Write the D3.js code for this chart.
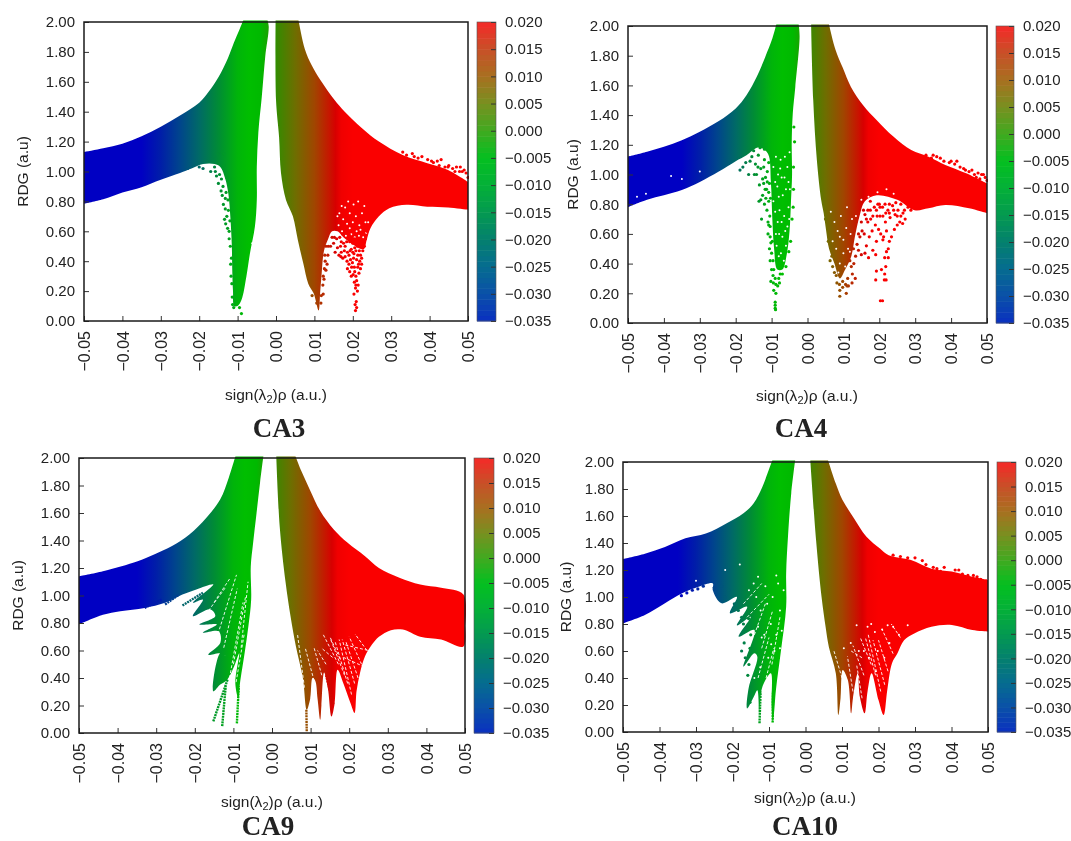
<!DOCTYPE html>
<html><head><meta charset="utf-8">
<script src="https://cdn.jsdelivr.net/npm/d3@7"></script>
<style>html,body{margin:0;padding:0;background:#fff;overflow:hidden}svg{display:block;filter:blur(.45px)}text{font-family:"Liberation Sans",Arial,sans-serif;fill:#222}</style>
</head><body><svg id="c" width="1071" height="841"></svg>
<script>
// All x values are sign(l2)rho in 1e-3 a.u.; y values are RDG.
const xTicks=[-.05,-.04,-.03,-.02,-.01,0,.01,.02,.03,.04,.05];
const yTicks=[0,.2,.4,.6,.8,1,1.2,1.4,1.6,1.8,2];
const cbTicks=[-.035,-.03,-.025,-.02,-.015,-.01,-.005,0,.005,.01,.015,.02];
const plotStopX=[-50,-35,-30,-25,-20,-15,-10,-7,-4,0,5,10,14,15.5,17,20,50];
const plotStopC=["#0000c3","#0000c3","#001ea8","#00458c","#006a66","#008c35","#00b40a","#00be00","#00b900","#328c00","#6e6e00","#a04600","#c81400","#d70000","#f00000","#fa0000","#fa0000"];
const cbStopV=[-.035,-.03,-.025,-.02,-.015,-.01,-.005,0,.005,.01,.015,.02];
const cbStopC=["#0a30c0","#0a50a8","#056c90","#04806e","#049a50","#04b038","#04bf20","#40aa20","#789020","#a87020","#c85028","#f42a28"];

const ca3Left=[[-50,1.13],[-45,1.155],[-40,1.185],[-35,1.235],[-30,1.3],[-25,1.375],[-20,1.46],[-17.5,1.535],[-15,1.63],[-12.5,1.76],[-11,1.86],[-9.5,1.95],[-8.4,2.02],[-2.3,2.02],[-1.9,1.97],[-2.8,1.77],[-3.7,1.5],[-4.6,1.26],[-5,1.03],[-5,.81],[-5.5,.63],[-6.8,.45],[-7.7,.3],[-9,.14],[-10,.1],[-10.9,.1],[-11.2,.2],[-11.4,.35],[-11.5,.5],[-11.9,.7],[-12.4,.85],[-13.2,.95],[-14.5,1.03],[-16,1.05],[-19,1.05],[-22,1.02],[-25,.99],[-30,.945],[-35,.895],[-40,.86],[-45,.815],[-50,.785]];
const ca3Right=[[-.1,2.02],[5.8,2.02],[7.5,1.82],[9.3,1.71],[11.6,1.61],[15.2,1.48],[17.9,1.4],[22.4,1.29],[26.8,1.2],[33,1.11],[39.4,1.055],[44.8,1.01],[50,.93],[50,.745],[44.8,.76],[39.4,.765],[34,.777],[29.5,.755],[26.8,.7],[24.6,.62],[23.6,.54],[22.8,.48],[18,.55],[16,.6],[14.6,.6],[13.6,.55],[12.5,.47],[11.9,.32],[11.5,.19],[11.1,.07],[9.8,.185],[8.4,.25],[7.1,.386],[5.7,.54],[4.4,.7],[2.6,.81],[1.3,.99],[.8,1.23],[0,1.48]];
const ca3Specks=[[-23,1.02],[-21.5,1.04],[-20,1.03],[-19,1.02],[-18,1.07],[-17,1],[-16,1.03],[-15,1.12],[-15.5,.97],[-14,1.13],[-13.5,1.12],[-14.2,.95],[-13.8,.9],[-13,.86],[-14.3,.87],[-13.2,.82],[-13.7,.78],[-12.5,.81],[-13.4,.68],[-12.8,.7],[-13.1,.65],[-12.2,.6],[-12.4,.74],[-12,.67],[-12.2,.55],[-11.9,.5],[-11.8,.38],[-11.6,.42],[-11.7,.3],[-11.5,.25],[-11.4,.16],[-11.3,.11],[-11,.09],[-9,.05],[-9.5,.09],[-12,.95],[-15,.92],[-16.5,1.08],[-12.8,.96],[-15.8,1],[-14.8,1.06],[-13.5,1.04],[-14.7,.98],[-14,.84],[-13.2,.75],[-12.6,.62],
[20.7,.07],[21,.09],[20.6,.11],[20.9,.13],[20.3,.18],[21.2,.2],[20.7,.22],[21.4,.24],[21,.27],[19.2,.33],[19.6,.3],[20.1,.31],[20.8,.3],[21.6,.32],[18.6,.35],[19,.38],[19.7,.36],[20.4,.36],[21.3,.36],[22,.35],[18.5,.4],[19.4,.41],[20.2,.42],[21,.41],[21.8,.4],[22.3,.42],[17,.46],[17.8,.47],[18.6,.46],[19.3,.47],[20,.46],[20.8,.47],[21.7,.47],[22.6,.47],[16,.49],[16.8,.5],[17.6,.52],[18.4,.53],[19.2,.53],[20,.52],[20.9,.53],[21.6,.53],[22.5,.52],[23,.5],[15,.52],[15.8,.55],[16.6,.56],[17.4,.58],[18.2,.59],[19,.58],[14.6,.56],[14.2,.5],[15.4,.46],[16.4,.44],[17.4,.42],[18,.5],[19,.44],[19.9,.39],[20.5,.33],[21.3,.44],[22,.44],[21.5,.38],[20.8,.24],[20.4,.26],[17,.53],[20.5,.49],[22,.5],[18,.43],[20.3,.45],[21.2,.5],[22.3,.38],[19.6,.48],[16.9,.43],[15.2,.56],[19.4,.56],[20.5,.55],[23.3,.55],[23.7,.6],
[13,.5],[13.5,.44],[12.8,.4],[13,.34],[12.3,.3],[12.2,.24],[11.8,.17],[11.7,.12],[10.6,.12],[9.4,.17],[12.5,.28],[12.7,.44],[13.6,.5],[12.3,.18],[13.3,.38],[12.6,.35],
[33,1.13],[34,1.11],[35.5,1.12],[37,1.09],[38,1.1],[39.5,1.08],[41,1.06],[42,1.07],[43,1.08],[44,1.03],[45,1.04],[46,1.02],[47,1.03],[48,1.03],[49,1.01],[48.5,1],[50,.96],[36,1.1],[40.5,1.07],[42.5,1.04],[44.8,1.03],[46.6,1],[47.8,1],[49.5,.99]];
const ca3Holes=[[16.5,.72],[17.5,.68],[18.5,.65],[19.2,.72],[20,.66],[20.8,.7],[21.7,.64],[22.4,.72],[23.3,.66],[18,.76],[20.2,.78],[19.2,.62],[21,.6],[22,.61],[16.3,.64],[24,.66],[17.2,.6],[18.2,.57],[19.6,.58],[20.5,.56],[21.6,.57],[22.7,.56],[18.8,.8],[21.4,.8],[23,.77],[16,.7],[17.1,.77],[23.5,.59],[-6.2,.52]];

const ca4Left=[[-50,1.12],[-44.7,1.153],[-40,1.187],[-35,1.23],[-30,1.288],[-24.7,1.36],[-20,1.445],[-17,1.534],[-14.1,1.66],[-11.8,1.79],[-9.8,1.915],[-8.6,2.02],[-2.5,2.02],[-2.2,1.93],[-3.4,1.59],[-4.1,1.41],[-4.4,1.2],[-4.3,1],[-4.6,.82],[-5,.62],[-5.8,.46],[-7,.36],[-8.4,.36],[-9.3,.5],[-9.8,.7],[-10.2,.95],[-11,1.14],[-13,1.18],[-14.1,1.18],[-17,1.13],[-20,1.09],[-24.7,1.02],[-30,.95],[-35,.896],[-40,.86],[-44.7,.83],[-50,.78]];
const ca4Right=[[1,2.02],[5.9,2.02],[7.8,1.84],[9.8,1.72],[12.1,1.59],[15.5,1.467],[19.3,1.366],[24,1.254],[28.9,1.165],[33.7,1.12],[38.4,1.064],[44.2,1.008],[50,.94],[50,.74],[45,.773],[38.4,.795],[33.7,.773],[29.8,.76],[25,.83],[19.3,.86],[16,.82],[14.5,.72],[13.2,.58],[12.2,.45],[10.5,.36],[9,.3],[7.5,.4],[6,.5],[5.2,.62],[4.5,.74],[3.8,.83],[2.6,1.1],[1.6,1.5]];
const ca4Specks=[[-18.8,1.03],[-18,1.05],[-17.2,1.08],[-16.4,1],[-16,1.09],[-15.5,1.12],[-15,1.16],[-14.5,1.07],[-14.2,1],[-13.7,1.13],[-13.2,1.18],[-13,1.04],[-13.4,.93],[-13,.83],[-13.5,.82],[-12.5,.97],[-12.5,.86],[-12,.8],[-12,1.1],[-11.5,1.2],[-11.2,1.02],[-11.4,.9],[-11.3,.76],[-10.8,.82],[-12.8,.7],[-11,.68],[-10.5,.72],[-10.6,.94],[-11,.6],[-10.4,.58],[-10.6,.5],[-10,.47],[-10.4,.42],[-10,.36],[-9.6,.32],[-10.2,.28],[-9.5,.27],[-9,.3],[-8.8,.26],[-9.4,.22],[-8.8,.2],[-8.3,.25],[-7.6,.33],[-7,.33],[-8,.3],[-9,.12],[-9,.1],[-8.9,.09],[-9,.14],[-7.8,.27],[-3.9,1.05],[-3.6,1.22],[-3.8,1.32],[-3.9,.9],[-4,.78],[-4.3,.7],[-9.4,.36],[-10.2,.54],[-11.7,.98],[-12.2,1.05],[-10.3,.84],[-10.8,1.08],[-11.8,.9],[-12,1.17],[-13.8,1.05],[-14.8,1],[-10.8,.66],[-11.6,.84],[-10.4,.65],[-10.8,.88],[-11.2,.95],[-12.2,.94],[-4.7,.55],[-5.2,.48],[-6,.38],[-9.6,.42],[-9.8,.55],
[12.8,.5],[13.4,.45],[14.2,.49],[15,.46],[15.8,.6],[14.2,.6],[12.2,.38],[11.2,.3],[12.5,.33],[13.3,.3],[12.4,.27],[11.4,.25],[10.6,.26],[9.8,.28],[8.9,.26],[8.2,.27],[9,.22],[9.8,.24],[9,.18],[10.8,.2],[11,.25],[7.5,.34],[7,.38],[6.3,.42],[12.9,.4],[5.8,.55],[5,.7],[11.8,.42],[13.8,.53],[14.6,.58],[6.8,.45],[8,.32],
[16,.73],[16.8,.68],[17.5,.76],[18.2,.72],[18.9,.66],[19.6,.8],[20.2,.72],[20.9,.78],[21.7,.68],[22.4,.76],[23,.71],[23.7,.79],[24.4,.73],[25.2,.76],[26,.72],[26.5,.67],[27,.76],[28,.78],[25,.66],[24.2,.63],[23.4,.58],[22.8,.55],[22.5,.5],[22,.62],[21.2,.58],[20.4,.6],[19.8,.63],[18,.62],[17.2,.58],[16.4,.52],[16,.47],[17,.44],[18.2,.49],[19,.46],[19.2,.55],[21,.56],[22,.48],[21.5,.44],[22.5,.44],[21.8,.38],[20.6,.36],[21.5,.33],[19.2,.35],[19,.29],[21.4,.29],[21.9,.29],[20.3,.15],[20.9,.15],[15,.68],[17.5,.82],[20,.8],[15.2,.62],[18.6,.78],[16.8,.76],[21.6,.8],[19.4,.72],[22.8,.8],[24.6,.81],[26,.8],[27.2,.7],[25.7,.68],[15.6,.76],[17.6,.7],[19.2,.76],[21,.72],[22.8,.74],[24,.76],[25,.72],[26.6,.74],[28.8,.76],[16.4,.7],[20.2,.78],[21.8,.74],
[33,1.13],[34.5,1.11],[36,1.12],[38,1.09],[39.5,1.08],[41,1.07],[42.5,1.05],[44,1.03],[45,1.02],[46.5,1],[47.5,1.01],[48.5,1],[49.5,.98],[50,.96],[47,.98],[35,1.13],[37,1.11],[40,1.09],[41.6,1.09],[43.5,1.04],[45.8,1.03],[48,.97],[49,1]];
const ca4Holes=[[-7.5,1.1],[-6,.9],[-8,.85],[-6.5,.72],[-8.3,.68],[-7,.58],[-5.6,1.05],[-9,.95],[-7.2,.98],[-5.3,.78],[-8.6,.52],[-6,.52],[-7.4,.47],[-8.8,1.12],[-9.5,.82],[-8.2,1],[-6.3,1.12],[-5,1.15],[-7.8,.76],[-6.9,.86],[-5.3,.95],[-9.5,1.05],[-5.6,.65],[-7.9,.6],[-6.6,.42],[-8,.45],[-4.9,.9],[-9,.75],[-8.8,.6],[-6.2,.62],[-7.2,.68],[-5.1,.7],[-6.4,.98],[-8.4,.92],[-7.6,1.04],
[9,.58],[10.8,.64],[7.5,.68],[11,.78],[9.3,.72],[8,.5],[10,.47],[11.3,.5],[9,.4],[7,.55],[6.5,.75],[12.4,.7],[12,.6],[10.5,.38],[13.5,.72],[8.6,.34],[10,.56],[8.4,.62],[11.8,.48],
[-38,.99],[-45,.87],[-30,1.02],[-47.5,.85],[-35,.97],[17,.85],[19.5,.88],[22,.9],[24,.87],[15,.83]];

const ca9Left=[[-50,1.14],[-43.8,1.177],[-34.8,1.25],[-30.4,1.3],[-25.9,1.36],[-21.4,1.444],[-17,1.566],[-13.4,1.7],[-11.2,1.857],[-9.4,2.02],[-2.2,2.02],[-3.1,1.82],[-4,1.6],[-4.9,1.38],[-5.5,1.21],[-5.4,.97],[-6.1,.78],[-7.1,.58],[-8.3,.36],[-8.7,.25],[-9.5,.36],[-8.5,.58],[-9.8,.485],[-11.6,.388],[-13.4,.352],[-15.2,.303],[-13.4,.58],[-12,.558],[-13.4,.58],[-16.5,.57],[-13.4,.655],[-13.8,.74],[-17.9,.73],[-14.3,.79],[-18.8,.79],[-14.7,.85],[-16,.9],[-20.5,.85],[-17.9,.97],[-20.5,.947],[-15.2,1.08],[-19.6,1.044],[-23.2,1.007],[-27.7,.947],[-33,.91],[-39.3,.886],[-43.8,.86],[-50,.79]];
const ca9Right=[[1.1,2.02],[6,2.02],[7.6,1.905],[9.8,1.77],[12.5,1.614],[16,1.48],[19.6,1.383],[24.1,1.286],[27.7,1.2],[33,1.13],[38.4,1.08],[43.8,1.056],[49.6,1.007],[50,.78],[49.6,.63],[43.8,.68],[38.4,.7],[33.9,.752],[30.8,.748],[27.7,.7],[25.9,.643],[24.1,.558],[22.8,.437],[21.9,.303],[21.4,.146],[20.3,.22],[18.5,.36],[17,.46],[16.2,.21],[15.4,.12],[14.5,.32],[13.5,.44],[12.8,.2],[12.5,.097],[11.8,.25],[11.2,.38],[10.5,.4],[9.9,.25],[9,.17],[8,.4],[6.2,.63],[4.8,.85],[3.5,1.1],[2,1.5]];
const ca9Rays=[[[-33,.91],[-28.6,.97]],[[-27.7,.935],[-24.1,1.007]],[[-23.2,.927],[-17.9,1.02]],[[-15.2,.085],[-11.5,.39]],[[-12.9,.05],[-12,.34]],[[-9.1,.07],[-8.6,.34]],[[9,.012],[8.9,.17]],[[15.9,.21],[14,.42]]];
const ca9Cuts=[[[-9.3,.37],[-7.2,.72]],[[-11,.4],[-7.5,.95]],[[-12.5,.62],[-9,1.05]],[[-14,.72],[-9.2,1.15]],[[-15,.95],[-11,1.12]],[[-18,.83],[-12,1.06]],[[-10,.5],[-6.8,1]],[[-8,.62],[-6.2,1.1]],
[[8.4,.33],[6.6,.72]],[[10.9,.38],[8.6,.62]],[[12.9,.42],[10.8,.63]],[[17.2,.5],[13.2,.72]],[[18.8,.42],[15.2,.68]],[[20.6,.28],[17.4,.68]],[[21.4,.36],[18.2,.68]],[[22.3,.4],[19.2,.66]],[[23.2,.5],[20,.7]],[[24.6,.6],[21.5,.72]],[[18.5,.55],[24,.48]],[[19,.64],[25,.6]],[[19.6,.36],[16.4,.66]],[[17.6,.54],[15,.7]],[[15.7,.55],[12.7,.62]],[[14,.5],[11.8,.6]]];

const ca10Left=[[-50,1.28],[-44,1.32],[-38.5,1.37],[-32.9,1.435],[-27.3,1.47],[-21.7,1.545],[-17,1.62],[-14.2,1.694],[-11.8,1.817],[-10.4,1.916],[-9,2.02],[-2.8,2.02],[-3.9,1.77],[-4.8,1.447],[-5.3,1.175],[-5.3,.928],[-6.7,.607],[-8.1,.311],[-8.7,.12],[-9,.08],[-9.3,.2],[-9.5,.435],[-11.8,.336],[-12.5,.2],[-12.7,.14],[-13.2,.31],[-14.2,.26],[-16,.175],[-15.6,.323],[-13.2,.558],[-14,.583],[-17,.484],[-14,.755],[-18.3,.706],[-15,.854],[-18.8,.79],[-16,.928],[-20.7,.88],[-18.8,1],[-23,.953],[-25.4,1.05],[-25.4,1.1],[-29.1,1.077],[-33.8,1.027],[-38.5,.953],[-44,.867],[-50,.805]];
const ca10Right=[[1.3,2.02],[6.1,2.02],[8.3,1.84],[10.1,1.72],[13,1.595],[16.7,1.447],[20.4,1.36],[22.8,1.31],[28.9,1.274],[34.5,1.21],[40.1,1.188],[45.7,1.15],[50,1.126],[50,.743],[45.7,.755],[40.1,.793],[34.5,.78],[29.8,.73],[27,.68],[25.2,.583],[23.7,.51],[22.4,.31],[21.4,.126],[20,.237],[18.1,.435],[17,.3],[16.2,.138],[14.9,.26],[14.3,.435],[13,.25],[12.5,.138],[11.6,.385],[10.2,.46],[9.6,.25],[9,.126],[8.3,.435],[6.4,.63],[5.5,.78],[4.4,1],[2.9,1.42]];
const ca10Rays=[[[-12.6,.065],[-12.3,.3]],[[-9,.07],[-8.9,.3]]];
const ca10Cuts=[[[-10.8,.4],[-8.7,.62]],[[-13,.4],[-10,.7]],[[-12,.62],[-9,.9]],[[-14,.72],[-11,.95]],[[-17,.95],[-12,1.1]],[[-16,.85],[-10,1.02]],[[-9.2,.5],[-7,.85]],
[[10,.4],[7.8,.6]],[[13,.3],[11.5,.56]],[[15.5,.25],[14,.5]],[[15.5,.55],[12.5,.6]],[[18,.5],[15,.7]],[[20.6,.3],[17.2,.72]],[[21.7,.35],[18.5,.68]],[[22.6,.45],[20,.68]],[[24,.58],[21,.76]],[[26,.7],[23.5,.8]],[[19.2,.42],[16.4,.7]],[[16,.42],[13,.64]]];
const ca10Holes=[[-7.5,1.1],[-9,1],[-7,.9],[-10.5,.95],[-8,.72],[-9.5,.8],[-6.5,.75],[-11,1.08],[-8.5,.6],[-7,.62],[-12.3,.9],[-13.5,1],[-11.3,.72],[-14.2,1.1],[-15.5,1.05],[-13,.78],[-10.2,.55],[-12.4,.48],[-14,.4],[-6,1.05],[-8,1.16],[-13,1.15],[-9.4,.65],[-12,.7],
[17,.78],[19,.74],[21,.76],[24,.78],[28,.79],[18,.8],[22.5,.79],[14,.79],[19.8,.6],[21.6,.55],[23,.66],[16,.6],[17.4,.55],[19.2,.45],[14.6,.6],[12.4,.66],[10.5,.62],[25.6,.72],[-30,1.12],[-22,1.2],[-18,1.24]];
const ca10Specks=[[-34,1.01],[-32.5,1.03],[-31,1.05],[-29.5,1.06],[-28,1.08],[-25,1.07],[-24.5,1.04],[-23,1.08],[-22,1],[-21,1.05],[-19,.92],[-17.5,.85],[-17.5,.6],[-16.5,.55],[-15.5,.5],[-15.8,.42],[-15.2,.22],[-14.8,.3],[-19.5,.95],[-18.4,.9],[-17,.8],[-16.8,.66],[-15.2,.62],[-15,.72],[-15.6,.84],
[33,1.24],[35,1.22],[37,1.19],[41,1.2],[43,1.17],[46,1.16],[48,1.13],[49.5,1.12],[24,1.31],[26,1.3],[28,1.29],[30,1.29],[32,1.27],[38,1.22],[36,1.21],[44.5,1.16],[42,1.2],[47,1.15]];

const panels=[
 {name:"CA3",l:84,r:468,t:22,b:321,cl:477,cr:496,yl:22,xl:276,xb:400,tx:279,ty:437,left:ca3Left,right:ca3Right,rays:[],cuts:[],specks:ca3Specks,holes:ca3Holes},
 {name:"CA4",l:628,r:987,t:26,b:323,cl:996,cr:1014,yl:572,xl:807,xb:401,tx:801,ty:437,left:ca4Left,right:ca4Right,rays:[],cuts:[],specks:ca4Specks,holes:ca4Holes},
 {name:"CA9",l:79,r:465,t:458,b:733,cl:474,cr:494,yl:17,xl:272,xb:807,tx:268,ty:835,left:ca9Left,right:ca9Right,rays:ca9Rays,cuts:ca9Cuts,specks:[],holes:[]},
 {name:"CA10",l:623,r:988,t:462,b:732,cl:997,cr:1016,yl:565,xl:805,xb:803,tx:805,ty:835,left:ca10Left,right:ca10Right,rays:ca10Rays,cuts:ca10Cuts,specks:ca10Specks,holes:ca10Holes}
];

const svg=d3.select("#c");
const defs=svg.append("defs");
const plotColor=d3.scaleLinear().domain(plotStopX).range(plotStopC);
const cbColor=d3.scaleLinear().domain(cbStopV).range(cbStopC);
const fmtM=s=>s.replace("-","\u2212");
// the frame corners of each wing stay sharp: their vertices are repeated for the spline
const sharp=a=>a.flatMap(d=>(d[1]>=2.02||Math.abs(d[0])===50)?[d,d]:[d]);

panels.forEach(p=>{
 const x=d3.scaleLinear([-.05,.05],[p.l,p.r]);
 const y=d3.scaleLinear([0,2],[p.b,p.t]);
 const X=d=>x(d[0]/1000),Y=d=>y(d[1]);
 const line=d3.line().x(X).y(Y);
 const body=d3.line().x(X).y(Y).curve(d3.curveCatmullRomClosed.alpha(.5));
 const gid="g"+p.name,cid="clip"+p.name;
 const grad=defs.append("linearGradient").attr("id",gid).attr("gradientUnits","userSpaceOnUse")
  .attr("x1",x(-.05)).attr("x2",x(.05)).attr("y1",0).attr("y2",0);
 plotStopX.forEach((v,i)=>grad.append("stop").attr("offset",(v+50)/100).attr("stop-color",plotStopC[i]));
 defs.append("clipPath").attr("id",cid).append("rect").attr("x",p.l-1).attr("y",p.t-1.5).attr("width",p.r-p.l+2).attr("height",p.b-p.t+2);
 const g=svg.append("g").attr("class",p.name);
 const m=g.append("g").attr("clip-path",`url(#${cid})`);
 [p.left,p.right].forEach(a=>m.append("path").attr("d",body(sharp(a))).attr("fill",`url(#${gid})`));
 m.selectAll("path.ray").data(p.rays).join("path").attr("class","ray").attr("d",line).attr("fill","none")
  .attr("stroke",d=>plotColor((d[0][0]+d[1][0])/2)).attr("stroke-width",2.4).attr("stroke-dasharray","2 .8");
 m.selectAll("path.cut").data(p.cuts).join("path").attr("class","cut").attr("d",line).attr("fill","none")
  .attr("stroke","#fff").attr("stroke-width",.9).attr("stroke-dasharray","3 2");
 m.selectAll("circle.hole").data(p.holes).join("circle").attr("class","hole").attr("cx",X).attr("cy",Y).attr("r",1).attr("fill","#fff");
 m.selectAll("circle.sp").data(p.specks).join("circle").attr("class","sp").attr("cx",X).attr("cy",Y).attr("r",1.6).attr("fill",d=>plotColor(d[0]));

 // colour bar
 const cb=d3.scaleLinear([-.035,.02],[p.b,p.t]);
 const bands=d3.range(0,55).map(i=>-.035+i*.001);
 g.selectAll("rect.band").data(bands).join("rect").attr("class","band").attr("x",p.cl).attr("width",p.cr-p.cl)
  .attr("y",d=>cb(d+.001)).attr("height",d=>cb(d)-cb(d+.001)+.5).attr("fill",d=>cbColor(d+.0005));

 const st=(s,fs)=>{s.select(".domain").remove();s.selectAll("line").attr("stroke","#333").attr("stroke-width",1);s.selectAll("text").attr("font-size",fs).attr("fill","#222").style("font-family","'Liberation Sans',Arial,sans-serif");};
 g.append("g").attr("transform",`translate(${p.l},0)`).call(d3.axisLeft(y).tickValues(yTicks).tickFormat(d3.format(".2f")).tickSize(-5).tickPadding(9)).call(st,15);
 const ax=g.append("g").attr("transform",`translate(0,${p.b})`).call(d3.axisBottom(x).tickValues(xTicks).tickFormat(d=>fmtM(d3.format(".2f")(d))).tickSize(-5)).call(st,16);
 ax.selectAll("text").attr("transform","rotate(-90)").attr("text-anchor","end").attr("x",-10).attr("y",0).attr("dy",".36em");
 g.append("g").attr("transform",`translate(${p.cr},0)`).call(d3.axisRight(cb).tickValues(cbTicks).tickFormat(d=>fmtM(d3.format(".3f")(d))).tickSize(-5).tickPadding(9)).call(st,15);

 g.append("rect").attr("x",p.l).attr("y",p.t).attr("width",p.r-p.l).attr("height",p.b-p.t).attr("fill","none").attr("stroke","#1a1a1a").attr("stroke-width",1.5);
 g.append("rect").attr("x",p.cl).attr("y",p.t).attr("width",p.cr-p.cl).attr("height",p.b-p.t).attr("fill","none").attr("stroke","#555").attr("stroke-width",.6);

 const cy=(p.t+p.b)/2;
 g.append("text").attr("transform",`translate(${p.yl},${cy}) rotate(-90)`).attr("text-anchor","middle").attr("dy",".36em").attr("font-size",15.5).text("RDG (a.u)");
 const xl=g.append("text").attr("x",p.xl).attr("y",p.xb).attr("text-anchor","middle").attr("font-size",15.5);
 xl.append("tspan").text("sign(\u03bb");
 xl.append("tspan").attr("font-size",11).attr("dy",3).text("2");
 xl.append("tspan").attr("dy",-3).text(")\u03c1 (a.u.)");
 g.append("text").attr("x",p.tx).attr("y",p.ty).attr("text-anchor","middle").attr("font-size",27).attr("font-weight","bold").style("font-family","'Liberation Serif',serif").attr("fill","#000").text(p.name);
});
</script></body></html>
